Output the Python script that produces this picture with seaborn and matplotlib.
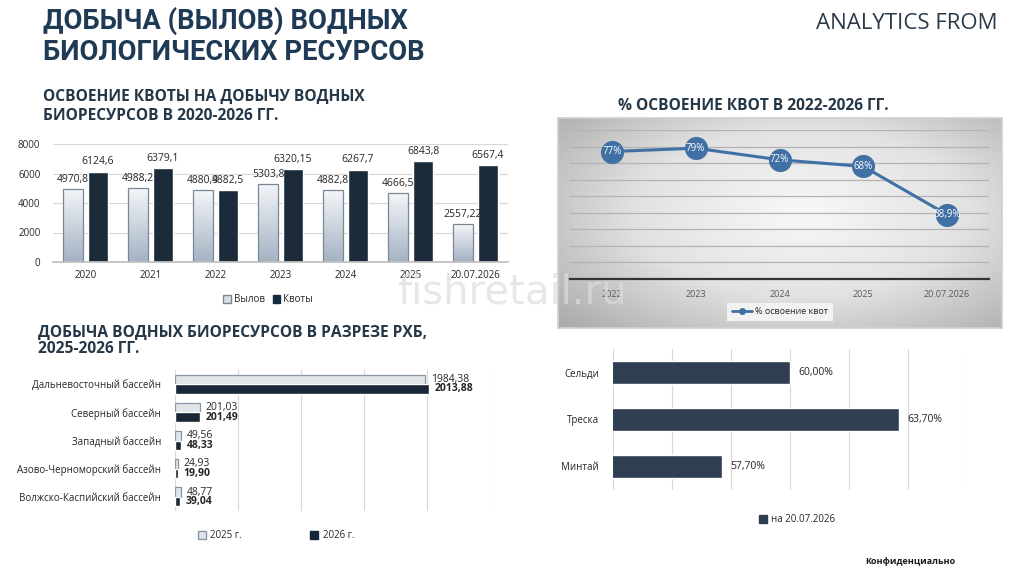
import numpy as np
import pandas as pd
import matplotlib
matplotlib.use("Agg")
import matplotlib.pyplot as plt
import seaborn as sns
from matplotlib.colors import LinearSegmentedColormap
from matplotlib.patches import Patch
from matplotlib.lines import Line2D

# ---- data ----
periods = ['2020', '2021', '2022', '2023', '2024', '2025', '20.07.2026']
catch = [4970.8, 4988.2, 4880.9, 5303.8, 4882.8, 4666.5, 2557.22]
quota = [6124.6, 6379.1, 4882.5, 6320.15, 6267.7, 6843.8, 6567.4]
catch_ticks = [0, 2000, 4000, 6000, 8000]

pct_years = ['2022', '2023', '2024', '2025', '20.07.2026']
pct_values = [77, 79, 72, 68, 38.9]

basins = ['Дальневосточный бассейн', 'Северный бассейн', 'Западный бассейн',
          'Азово-Черноморский бассейн', 'Волжско-Каспийский бассейн']
basin_2025 = [1984.38, 201.03, 49.56, 24.93, 48.77]
basin_2026 = [2013.88, 201.49, 48.33, 19.90, 39.04]

species = ['Сельди', 'Треска', 'Минтай']
species_pct = [60.00, 63.70, 57.70]

# ---- style ----
sns.set_theme(style='white')
plt.rcParams['font.family'] = ['Open Sans', 'DejaVu Sans']

W, H = 1024, 576
fig = plt.figure(figsize=(W / 100, H / 100), dpi=100)
fig.patch.set_facecolor('white')

NAVY = '#1f3a55'
DARK = '#172b3e'
LIGHT = '#d6dee7'
SLATE = '#2f3e50'
TXT = '#262626'


def px_axes(x0, y0, x1, y1):
    return fig.add_axes([x0 / W, 1 - y1 / H, (x1 - x0) / W, (y1 - y0) / H])


def comma(v, nd=None):
    s = f"{v:.{nd}f}" if nd is not None else f"{v:g}"
    return s.replace('.', ',')


def ftext(x, y, s, **kw):
    return fig.text(x / W, 1 - y / H, s, **kw)


# ---- headers ----
title_font = ['Roboto', 'DejaVu Sans']
ftext(43, 29, 'ДОБЫЧА (ВЫЛОВ) ВОДНЫХ', fontsize=19.7, fontweight='bold',
      color=NAVY, family=title_font, va='baseline')
ftext(43, 60, 'БИОЛОГИЧЕСКИХ РЕСУРСОВ', fontsize=19.7, fontweight='bold',
      color=NAVY, family=title_font, va='baseline')
ftext(998, 29, 'ANALYTICS FROM', fontsize=16, color='#2b3a4a',
      ha='right', va='baseline')

sub_kw = dict(fontsize=11.2, fontweight='bold', color='#253746', va='baseline')
ftext(43, 101, 'ОСВОЕНИЕ КВОТЫ НА ДОБЫЧУ ВОДНЫХ', **sub_kw)
ftext(43, 120, 'БИОРЕСУРСОВ В 2020-2026 ГГ.', **sub_kw)
ftext(618, 110, '% ОСВОЕНИЕ КВОТ В 2022-2026 ГГ.', **sub_kw)
ftext(38, 337, 'ДОБЫЧА ВОДНЫХ БИОРЕСУРСОВ В РАЗРЕЗЕ РХБ,', **sub_kw)
ftext(38, 353, '2025-2026 ГГ.', **sub_kw)

# ---- chart 1: catch vs quota ----
ax1 = px_axes(53, 144, 508, 262)
df1 = pd.DataFrame({
    'period': periods * 2,
    'value': catch + quota,
    'series': ['Вылов'] * len(periods) + ['Квоты'] * len(periods),
})
sns.barplot(data=df1, x='period', y='value', hue='series', palette=[LIGHT, DARK],
            width=0.77, gap=0.2, ax=ax1, legend=False)
grad_cmap = LinearSegmentedColormap.from_list('bar', ['#a4b2c3', '#f4f6f9'])
grad = np.linspace(0, 1, 128).reshape(-1, 1)
for bar in ax1.containers[0]:
    x0, w, h = bar.get_x(), bar.get_width(), bar.get_height()
    bar.set_facecolor('none')
    bar.set_edgecolor('#7b8795')
    bar.set_linewidth(0.9)
    im = ax1.imshow(grad, extent=[x0, x0 + w, 0, h], origin='lower', aspect='auto',
                    cmap=grad_cmap, zorder=bar.get_zorder() - 0.1)
    im.set_clip_path(bar)
ax1.set_xlim(-0.5, len(periods) - 0.5)
ax1.set_ylim(0, 8000)
ax1.set_yticks(catch_ticks)
ax1.bar_label(ax1.containers[0], labels=[comma(v) for v in catch], padding=3,
              fontsize=7.5, color=TXT)
ax1.bar_label(ax1.containers[1], labels=[comma(v) for v in quota], padding=3,
              fontsize=7.5, color=TXT)
ax1.yaxis.grid(True, color='#d9d9d9', lw=0.8)
ax1.set_axisbelow(True)
sns.despine(ax=ax1, left=True)
ax1.spines['bottom'].set_color('#bfbfbf')
ax1.tick_params(length=0, labelsize=7, colors=TXT)
ax1.tick_params(axis='y', pad=9)
ax1.tick_params(axis='x', pad=6)
ax1.set_xlabel('')
ax1.set_ylabel('')
fig.legend(handles=[Patch(facecolor=LIGHT, edgecolor='#7b8795', label='Вылов'),
                    Patch(facecolor=DARK, edgecolor=DARK, label='Квоты')],
           loc='center', bbox_to_anchor=(268 / W, 1 - 300 / H), ncol=2, frameon=False,
           fontsize=7, handlelength=0.8, handleheight=0.8, handletextpad=0.3,
           columnspacing=0.8)

# ---- chart 2: % quota use ----
bg = px_axes(558, 118, 1002, 328)
yy, xx = np.mgrid[0:1:200j, 0:1:400j]
r = np.sqrt(((xx - 0.55) / 0.75) ** 2 + ((yy - 0.45) / 0.8) ** 2)
panel_cmap = LinearSegmentedColormap.from_list('panel', ['#f8f8f8', '#e2e2e2', '#a9a9a9'])
bg.imshow(np.clip(r, 0, 1), cmap=panel_cmap, aspect='auto', extent=[0, 1, 0, 1])
bg.set_xticks([])
bg.set_yticks([])
for s in bg.spines.values():
    s.set_color('#d0d0d0')

ax2 = px_axes(570, 130, 989, 279)
ax2.patch.set_alpha(0)
BLUE = '#4170a4'
sns.pointplot(x=pct_years, y=pct_values, color=BLUE, markersize=15, linewidth=2.2,
              errorbar=None, ax=ax2)
for i, v in enumerate(pct_values):
    ax2.text(i, v, comma(v) + '%', ha='center', va='center', color='white',
             fontsize=7, zorder=5)
ax2.set_xlim(-0.5, len(pct_years) - 0.5)
ax2.set_ylim(0, 90)
ax2.set_yticks(range(0, 91, 10))
ax2.set_yticklabels([])
ax2.yaxis.grid(True, color='#b3b3b3', lw=0.9)
ax2.set_axisbelow(True)
for side in ['top', 'left', 'right']:
    ax2.spines[side].set_visible(False)
ax2.spines['bottom'].set_color('#333333')
ax2.spines['bottom'].set_linewidth(1.6)
ax2.tick_params(length=0, labelsize=6.5, colors='#595959', pad=8)
ax2.set_xlabel('')
ax2.set_ylabel('')
fig.legend(handles=[Line2D([0], [0], color=BLUE, lw=2, marker='o', markersize=4,
                           label='% освоение квот')],
           loc='center', bbox_to_anchor=(780 / W, 1 - 312 / H), frameon=True,
           facecolor='#f2f2f2', edgecolor='none', fancybox=False, framealpha=1,
           fontsize=6.5, handlelength=2.2, handletextpad=0.4, borderpad=0.5)

# ---- chart 3: by basin ----
ax3 = px_axes(175, 370, 490, 511)
df3 = pd.DataFrame({
    'basin': basins * 2,
    'value': basin_2025 + basin_2026,
    'year': ['2025 г.'] * len(basins) + ['2026 г.'] * len(basins),
})
sns.barplot(data=df3, x='value', y='basin', hue='year', orient='h',
            palette=['#dfe5ec', '#13263a'], width=0.68, gap=0, ax=ax3, legend=False)
for bar in ax3.containers[0]:
    bar.set_edgecolor('#8a96a3')
    bar.set_linewidth(0.9)
ax3.bar_label(ax3.containers[0], labels=[comma(v, 2) for v in basin_2025], padding=4,
              fontsize=7.5, color=TXT)
ax3.bar_label(ax3.containers[1], labels=[comma(v, 2) for v in basin_2026], padding=4,
              fontsize=7.5, color=TXT, fontweight='bold')
ax3.set_xlim(0, 2500)
ax3.set_xticks(range(0, 2501, 500))
ax3.set_xticklabels([])
ax3.xaxis.grid(True, color='#d9d9d9', lw=0.8)
ax3.set_axisbelow(True)
sns.despine(ax=ax3, left=True, bottom=True)
ax3.tick_params(length=0, labelsize=7, colors=TXT, pad=10)
ax3.set_xlabel('')
ax3.set_ylabel('')
fig.legend(handles=[Patch(facecolor='#dfe5ec', edgecolor='#8a96a3', label='2025 г.'),
                    Patch(facecolor='#13263a', edgecolor='#13263a', label='2026 г.')],
           loc='center', bbox_to_anchor=(276 / W, 1 - 536 / H), ncol=2, frameon=False,
           fontsize=7, handlelength=0.8, handleheight=0.8, handletextpad=0.5,
           columnspacing=7)

# ---- chart 4: by species ----
ax4 = px_axes(613, 349, 967, 490)
sns.barplot(x=species_pct, y=species, orient='h', color=SLATE, width=0.5,
            saturation=1, ax=ax4)
ax4.bar_label(ax4.containers[0], labels=[comma(v, 2) + '%' for v in species_pct],
              padding=6, fontsize=7.5, color=TXT)
ax4.set_xlim(54, 66)
ax4.set_xticks(range(54, 67, 2))
ax4.set_xticklabels([])
ax4.xaxis.grid(True, color='#d9d9d9', lw=0.8)
ax4.set_axisbelow(True)
sns.despine(ax=ax4, left=True, bottom=True)
ax4.tick_params(length=0, labelsize=7, colors=TXT, pad=10)
ax4.set_xlabel('')
ax4.set_ylabel('')
fig.legend(handles=[Patch(facecolor=SLATE, edgecolor=SLATE, label='на 20.07.2026')],
           loc='center', bbox_to_anchor=(797 / W, 1 - 520 / H), frameon=False,
           fontsize=7, handlelength=0.8, handleheight=0.8, handletextpad=0.4)

ftext(865, 562, 'Конфиденциально', fontsize=6.5, fontweight='bold', color='#1a1a1a',
      va='center')

# watermark
ftext(397, 303, 'fishretail.ru', fontsize=29, color='#dddddd', alpha=0.7,
      family=['DejaVu Sans'], va='baseline', zorder=10)

fig.savefig('out.png', dpi=100, facecolor='white')
